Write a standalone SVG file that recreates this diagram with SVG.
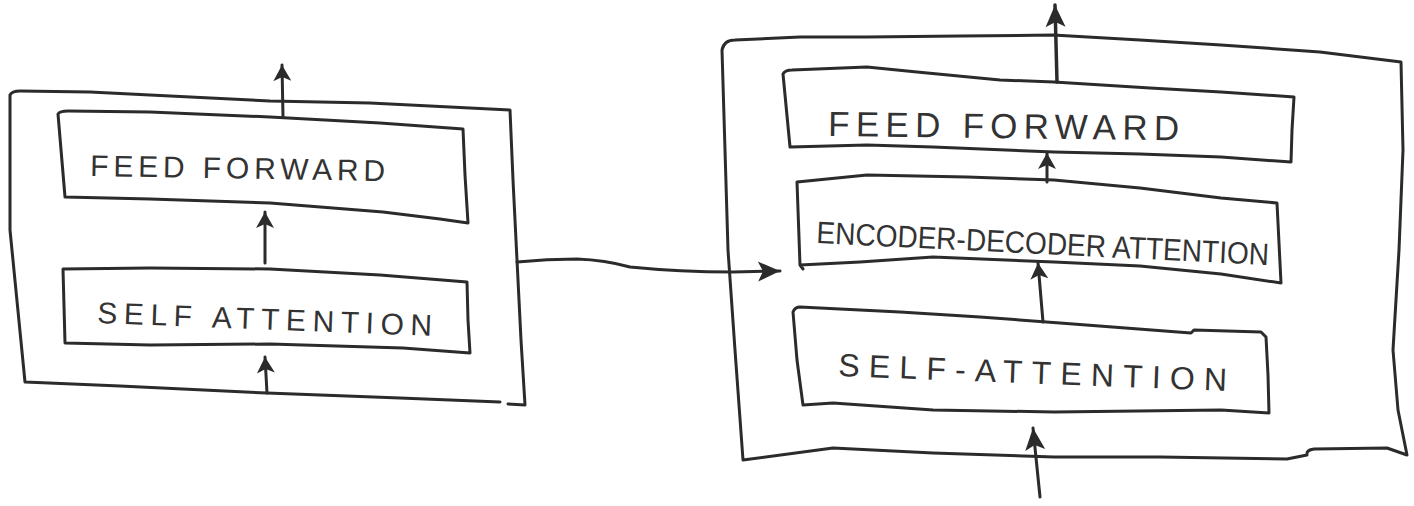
<svg xmlns="http://www.w3.org/2000/svg" width="1414" height="506" viewBox="0 0 1414 506">
  <style>
    .ink { fill: none; stroke: #2b2b2b; stroke-width: 3; stroke-linecap: round; stroke-linejoin: round; }
    .wire { fill: none; stroke: #2b2b2b; stroke-width: 3; stroke-linecap: round; }
    .lbl { font-family: "Liberation Sans", Arial, sans-serif; fill: #333; font-weight: 400; }
  </style>
  <defs>
    <marker id="head" viewBox="0 0 20 20" refX="18" refY="10" markerWidth="20" markerHeight="20" markerUnits="userSpaceOnUse" orient="auto" overflow="visible">
      <path d="M2,1 L18,10 L2,19 L6,10 Z" fill="#2b2b2b"/>
    </marker>
    <marker id="head-lg" viewBox="0 0 26 22" refX="24" refY="11" markerWidth="26" markerHeight="22" markerUnits="userSpaceOnUse" orient="auto" overflow="visible">
      <path d="M2,1 L24,11 L2,21 L7,11 Z" fill="#2b2b2b"/>
    </marker>
  </defs>

  <rect width="1414" height="506" fill="#ffffff"/>

  <!-- encoder block -->
  <g id="encoder">
    <path class="ink" d="M10,95 Q12,91 20,91 L90,92 L150,95 L270,101 L370,103 L510,110 L513,180 L517,260 L521,340 L525,405 L508,404 M500,402 L400,398 L267,393 L120,386 L25,382 L10,230 L10,95"/>
  </g>

  <g id="encoder-feed-forward">
    <path class="ink" d="M58,114 Q60,111 68,111 L150,112 L270,117 L380,123 L463,129 L465,175 L468,223 L440,219 L383,212 L270,203 L150,199 L65,197 Z"/>
    <text class="lbl" x="90" y="176" font-size="30" textLength="295" lengthAdjust="spacing" transform="rotate(1 90 176)">FEED FORWARD</text>
  </g>

  <g id="encoder-self-attention">
    <path class="ink" d="M63,269 L150,268 L270,269 L380,275 L467,282 L468,320 L470,353 L403,348 L270,344 L150,345 L65,343 Z"/>
    <text class="lbl" x="97" y="323" font-size="30" textLength="335" lengthAdjust="spacing" transform="rotate(2.2 97 323)">SELF ATTENTION</text>
  </g>

  <!-- decoder block -->
  <g id="decoder">
    <path class="ink" d="M722,50 Q724,40 735,40 L800,37 L867,37 L960,36 L1053,35 L1140,40 L1221,45 L1320,52 L1401,62 L1403,150 L1399,250 L1393,350 L1398,410 L1407,455 L1387,448 L1314,449 Q1306,450 1307,455 L1287,459 L1160,457 L1054,457 L933,453 L833,448 L743,460 L735,350 L728,250 Z"/>
  </g>

  <g id="decoder-feed-forward">
    <path class="ink" d="M783,74 Q785,70 792,70 L867,67 L917,72 L1000,80 L1054,82 L1150,88 L1221,92 L1294,97 L1292,130 L1291,162 L1221,157 L1140,154 L1054,152 L933,147 L867,145 L790,147 Z"/>
    <text class="lbl" x="828" y="136" font-size="35" textLength="351" lengthAdjust="spacing" transform="rotate(0.7 828 136)">FEED FORWARD</text>
  </g>

  <g id="decoder-enc-dec-attention">
    <path class="ink" d="M797,182 L867,175 L967,177 L1054,180 L1140,188 L1221,198 L1277,203 L1279,243 L1281,283 L1221,274 L1140,266 L1054,262 L933,257 L860,262 L800,265 L803,269 M800,265 L797,182"/>
    <text class="lbl" x="816" y="243" font-size="31" textLength="453" lengthAdjust="spacingAndGlyphs" transform="rotate(2.8 816 243)">ENCODER-DECODER ATTENTION</text>
  </g>

  <g id="decoder-self-attention">
    <path class="ink" d="M793,312 Q795,307 800,307 L900,312 L980,317 L1060,323 L1191,333 L1194,330 L1261,332 L1266,337 L1268,375 L1269,413 L1221,410 L1054,412 L933,410 L833,403 L803,405 L797,360 Z"/>
    <text class="lbl" x="838" y="376" font-size="32" textLength="389" lengthAdjust="spacing" transform="rotate(2.2 838 376)">SELF-ATTENTION</text>
  </g>

  <!-- connectors -->
  <g id="connectors">
    <path class="wire" d="M267,393 L265,357" marker-end="url(#head)"/>
    <path class="wire" d="M265,263 L265,212" marker-end="url(#head)"/>
    <path class="wire" d="M283,117 L282,65" marker-end="url(#head)"/>
    <path class="wire" d="M517,262 Q547,259 577,259 Q605,260 630,267 Q680,272 733,272 L780,271" marker-end="url(#head-lg)"/>
    <path class="wire" d="M1040,497 L1033,428" marker-end="url(#head-lg)"/>
    <path class="wire" d="M1043,322 L1038,263" marker-end="url(#head)"/>
    <path class="wire" d="M1047,182 L1047,153" marker-end="url(#head)"/>
    <path class="wire" style="stroke-width:3.5" d="M1057,82 L1055,5" marker-end="url(#head-lg)"/>
  </g>
</svg>
